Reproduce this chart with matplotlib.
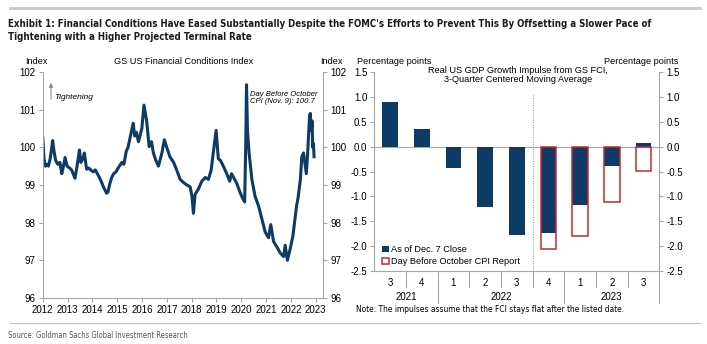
"""GS FCI and GDP growth impulse exhibit."""
import matplotlib
matplotlib.use("Agg")
import matplotlib.pyplot as plt
import matplotlib.transforms as mtransforms
from matplotlib import font_manager
import pandas as pd

W, H = 707, 344
NAVY = "#0e3a66"
RED = "#c8282e"
GRAY = "#a6a6a6"
FONT = ["Liberation Sans", "DejaVu Sans"]
FS = 6.6

plt.rcParams["font.family"] = FONT
plt.rcParams["font.size"] = FS

# GS US Financial Conditions Index
fci_dates = [
    "2012-01-03", "2012-01-20", "2012-02-10", "2012-03-05", "2012-03-25", "2012-04-20",
    "2012-05-10", "2012-05-27", "2012-06-15", "2012-07-10", "2012-08-10", "2012-09-10",
    "2012-10-08", "2012-11-01", "2012-11-25", "2012-12-25", "2013-02-01", "2013-03-01",
    "2013-04-20", "2013-05-20", "2013-06-25", "2013-07-15", "2013-08-15", "2013-09-05",
    "2013-10-08", "2013-11-10", "2013-12-20", "2014-01-15", "2014-02-15", "2014-03-15",
    "2014-04-15", "2014-05-10", "2014-06-10", "2014-07-10", "2014-07-30", "2014-08-20",
    "2014-09-10", "2014-10-12", "2014-11-10", "2014-12-15", "2015-01-15", "2015-03-10",
    "2015-04-10", "2015-05-15", "2015-06-10", "2015-07-15", "2015-08-25", "2015-09-15",
    "2015-10-10", "2015-11-10", "2015-12-30", "2016-01-30", "2016-03-10", "2016-04-15",
    "2016-05-20", "2016-06-17", "2016-07-20", "2016-08-30", "2016-10-20", "2016-11-25",
    "2016-12-30", "2017-02-15", "2017-04-10", "2017-05-25", "2017-07-15", "2017-09-01",
    "2017-10-22", "2017-12-10", "2018-01-05", "2018-01-27", "2018-02-20", "2018-04-12",
    "2018-05-30", "2018-07-20", "2018-09-05", "2018-10-15", "2018-11-18", "2018-12-27",
    "2019-01-28", "2019-03-01", "2019-04-12", "2019-06-01", "2019-07-15", "2019-08-10",
    "2019-09-10", "2019-10-25", "2019-12-15", "2020-01-20", "2020-02-20", "2020-03-09",
    "2020-03-18", "2020-04-01", "2020-04-25", "2020-06-05", "2020-07-22", "2020-09-10",
    "2020-10-30", "2020-12-18", "2021-02-05", "2021-03-10", "2021-04-20", "2021-06-10",
    "2021-07-25", "2021-09-15", "2021-10-08", "2021-11-10", "2021-12-20", "2022-01-30",
    "2022-03-08", "2022-03-25", "2022-04-15", "2022-05-20", "2022-06-10", "2022-07-05",
    "2022-08-15", "2022-09-01", "2022-10-01", "2022-10-12", "2022-10-28", "2022-11-09",
    "2022-11-16", "2022-11-28", "2022-12-07",
]
fci_values = [
    100.24, 99.70, 99.50, 99.55, 99.50, 99.70,
    99.95, 100.18, 99.90, 99.65, 99.55, 99.60,
    99.30, 99.50, 99.73, 99.50, 99.45, 99.40,
    99.18, 99.50, 99.93, 99.60, 99.70, 99.85,
    99.42, 99.45, 99.38, 99.35, 99.40, 99.30,
    99.20, 99.10, 98.96, 98.85, 98.78, 98.82,
    99.00, 99.20, 99.30, 99.35, 99.45, 99.60,
    99.55, 99.90, 100.00, 100.30, 100.64, 100.30,
    100.40, 100.15, 100.50, 101.12, 100.70, 100.02,
    100.15, 99.85, 99.67, 99.50, 99.85, 100.20,
    100.00, 99.75, 99.60, 99.40, 99.15, 99.07,
    99.00, 98.95, 98.70, 98.25, 98.75, 98.90,
    99.10, 99.20, 99.15, 99.40, 99.90, 100.45,
    99.70, 99.65, 99.50, 99.30, 99.10, 99.30,
    99.20, 99.05, 98.80, 98.65, 98.55, 100.30,
    101.66, 100.45, 99.85, 99.15, 98.70, 98.45,
    98.10, 97.75, 97.60, 97.95, 97.50, 97.35,
    97.20, 97.10, 97.40, 97.00, 97.30, 97.65,
    98.20, 98.45, 98.65, 99.15, 99.75, 99.85,
    99.30, 99.75, 100.81, 100.90, 100.45, 100.70,
    100.00, 100.10, 99.75,
]
fci_years = list(range(2012, 2024))

# GDP growth impulse, percentage points
quarters = ["3", "4", "1", "2", "3", "4", "1", "2", "3"]
quarter_years = ["2021", "2022", "2023"]
impulse_dec7 = [0.90, 0.35, -0.42, -1.22, -1.77, -1.73, -1.18, -0.38, 0.08]
impulse_oct_cpi = [None, None, None, None, None, -2.05, -1.80, -1.12, -0.48]

HEADER_1 = ("Exhibit 1: Financial Conditions Have Eased Substantially Despite the FOMC's "
            "Efforts to Prevent This By Offsetting a Slower Pace of")
HEADER_2 = "Tightening with a Higher Projected Terminal Rate"


def narrow_font(bold):
    # look for a condensed/narrow face, else fall back to plain Liberation Sans
    wanted = {"bold", 600, 700} if bold else {"normal", "regular", 400}
    for f in font_manager.fontManager.ttflist:
        narrow = ("Narrow" in f.name or "Condensed" in f.name
                  or f.stretch in ("condensed", "semi-condensed", "extra-condensed"))
        if narrow and f.weight in wanted and f.style == "normal":
            return font_manager.FontProperties(fname=f.fname)
    return font_manager.FontProperties(family=FONT, weight="bold" if bold else "normal")


def fit_text(fig, txt, max_px, start):
    renderer = fig.canvas.get_renderer()
    size = start
    txt.set_fontsize(size)
    while txt.get_window_extent(renderer).width > max_px and size > 4:
        size -= 0.1
        txt.set_fontsize(size)
    return size


def frac(x, y):
    return x / W, 1 - y / H


fig = plt.figure(figsize=(W / 100, H / 100), dpi=100)
head_fp = narrow_font(True)
body_fp = narrow_font(False)

# header / footer
fig.add_artist(plt.Line2D([10 / W, 700 / W], [1 - 8 / H] * 2, color="#c8c8c8", lw=2))
h1 = fig.text(*frac(8, 24), HEADER_1, fontproperties=head_fp, va="center", color="#1a1a1a")
size = fit_text(fig, h1, 644, 9.0)
fig.text(*frac(8, 37), HEADER_2, fontproperties=head_fp, fontsize=size, va="center",
         color="#1a1a1a")
fig.add_artist(plt.Line2D([10 / W, 700 / W], [1 - 323 / H] * 2, color="#bdbdbd", lw=0.8))
src = fig.text(*frac(8, 335), "Source: Goldman Sachs Global Investment Research",
               fontproperties=body_fp, va="center", color="#555555")
fit_text(fig, src, 182, 6.0)

# ---- left panel: FCI ----
ax1 = fig.add_axes([42.7 / W, 1 - 298 / H, (323.3 - 42.7) / W, 226 / H])
dates = pd.to_datetime(fci_dates)
ax1.plot(dates, fci_values, color=NAVY, lw=2.2, solid_joinstyle="round")
ax1.set_xlim(pd.Timestamp("2012-01-01"), pd.Timestamp("2023-04-22"))
ax1.set_ylim(96, 102)
ax1.set_yticks(range(96, 103))
ax1.set_xticks([pd.Timestamp(f"{y}-01-01") for y in fci_years])
ax1.set_xticklabels([str(y) for y in fci_years])
ax1.spines["top"].set_visible(False)
for s in ["left", "right", "bottom"]:
    ax1.spines[s].set_color(GRAY)
ax1.tick_params(axis="y", which="both", left=True, right=True, labelleft=True,
                labelright=True, direction="out", length=3, color=GRAY, pad=2, labelsize=7)
ax1.tick_params(axis="x", direction="out", length=3, color=GRAY, pad=2, labelsize=7)
fig.text(*frac(36, 61), "Index", ha="center", va="center")
fig.text(*frac(331, 61), "Index", ha="center", va="center")
fig.text(*frac(184, 61), "GS US Financial Conditions Index", ha="center", va="center")
fig.add_artist(matplotlib.patches.FancyArrowPatch(
    frac(51, 102), frac(51, 80), arrowstyle="-|>", mutation_scale=6, color="#8c8c8c", lw=0.8))
fig.text(*frac(54, 97), "Tightening", style="italic", va="center", fontsize=6)
fig.text(*frac(250, 98), "Day Before October\nCPI (Nov. 9): 100.7", style="italic",
         va="center", fontsize=5.5, linespacing=1.1)

# ---- right panel: GDP impulse ----
ax2 = fig.add_axes([374.3 / W, 1 - 271 / H, (659.3 - 374.3) / W, 198.7 / H])
xs = list(range(len(quarters)))
ax2.bar(xs, impulse_dec7, width=0.5, color=NAVY, zorder=2, label="As of Dec. 7 Close")
red_x = [x for x, v in zip(xs, impulse_oct_cpi) if v is not None]
red_v = [v for v in impulse_oct_cpi if v is not None]
ax2.bar(red_x, red_v, width=0.5, facecolor="none", edgecolor=RED, lw=1.1, zorder=3,
        label="Day Before October CPI Report")
ax2.axhline(0, color=GRAY, lw=0.8, zorder=1)
ax2.plot([4.5, 4.5], [-2.5, 1.05], color="#8c8c8c", lw=0.7, ls=(0, (1, 1.5)), zorder=1)
ax2.set_xlim(-0.5, 8.5)
ax2.set_ylim(-2.5, 1.5)
ax2.set_yticks([1.5, 1.0, 0.5, 0.0, -0.5, -1.0, -1.5, -2.0, -2.5])
ax2.yaxis.set_major_formatter(matplotlib.ticker.FormatStrFormatter("%.1f"))
ax2.set_xticks(xs)
ax2.set_xticklabels(quarters)
ax2.spines["top"].set_visible(False)
for s in ["left", "right", "bottom"]:
    ax2.spines[s].set_color(GRAY)
ax2.tick_params(axis="y", left=True, right=True, labelleft=True, labelright=True,
                direction="out", length=3, color=GRAY, pad=2, labelsize=7)
ax2.tick_params(axis="x", length=0, pad=5, labelsize=7)
trans = mtransforms.blended_transform_factory(ax2.transData, ax2.transAxes)
for b in [0.5, 2.5, 3.5, 4.5, 6.5, 7.5]:
    ax2.plot([b, b], [0, -0.08], color=GRAY, lw=0.8, transform=trans, clip_on=False)
for b in [1.5, 5.5, 8.5]:
    ax2.plot([b, b], [0, -0.16], color=GRAY, lw=0.8, transform=trans, clip_on=False)
for cx, yr in zip([0.5, 3.5, 7.0], quarter_years):
    ax2.text(cx, -0.13, yr, transform=trans, ha="center", va="center", fontsize=7)
ax2.legend(loc="lower left", bbox_to_anchor=(0.015, 0.005), frameon=False, fontsize=FS,
           handlelength=0.7, handleheight=0.7, handletextpad=0.3, labelspacing=0.35,
           borderaxespad=0.0)
fig.text(*frac(357, 61), "Percentage points", va="center")
fig.text(*frac(678, 61), "Percentage points", ha="right", va="center")
fig.text(*frac(518, 75), "Real US GDP Growth Impulse from GS FCI,\n3-Quarter Centered Moving Average",
         ha="center", va="center", linespacing=1.0)
note = fig.text(*frac(356, 310),
                "Note: The impulses assume that the FCI stays flat after the listed date.",
                fontproperties=body_fp, va="center")
fit_text(fig, note, 272, 7.0)

fig.savefig("out.png", dpi=100)
